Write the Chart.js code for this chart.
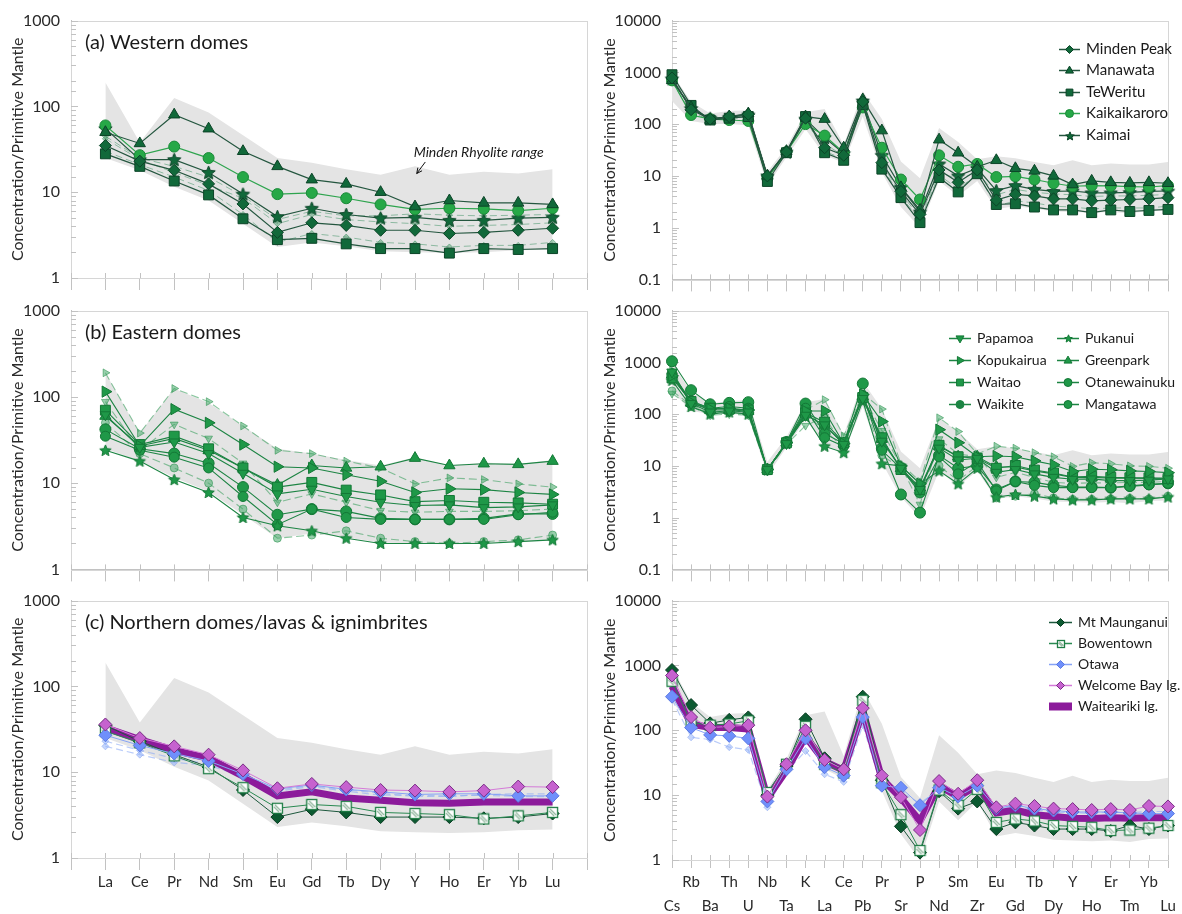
<!DOCTYPE html>
<html>
<head>
<meta charset="utf-8">
<script src="https://cdn.jsdelivr.net/npm/chart.js@4.4.1/dist/chart.umd.min.js"></script>
<style>
  body { margin: 0; background: #fff; }
  #wrap { position: relative; width: 1182px; height: 914px; overflow: hidden; }
  canvas { position: absolute; }
</style>
</head>
<body>
<div id="wrap">
  <canvas id="a1" width="595" height="300" style="left:0;top:0"></canvas>
  <canvas id="a2" width="592" height="300" style="left:590px;top:0"></canvas>
  <canvas id="b1" width="595" height="300" style="left:0;top:290px"></canvas>
  <canvas id="b2" width="592" height="300" style="left:590px;top:290px"></canvas>
  <canvas id="c1" width="595" height="334" style="left:0;top:580px"></canvas>
  <canvas id="c2" width="592" height="334" style="left:590px;top:580px"></canvas>
</div>
<script>
// element order on the two kinds of plot
const ree = ['La', 'Ce', 'Pr', 'Nd', 'Sm', 'Eu', 'Gd', 'Tb', 'Dy', 'Y', 'Ho', 'Er', 'Yb', 'Lu'];
const spider = ['Cs', 'Rb', 'Ba', 'Th', 'U', 'Nb', 'Ta', 'K', 'La', 'Ce', 'Pb', 'Pr', 'Sr', 'P', 'Nd', 'Sm', 'Zr',
                'Eu', 'Gd', 'Tb', 'Dy', 'Y', 'Ho', 'Er', 'Tm', 'Yb', 'Lu'];

// Minden Rhyolite envelope
const reeRangeHi = [190, 38, 125, 85, 46, 25, 22, 18.5, 16, 20, 16, 17.3, 16.5, 18.5];
const reeRangeLo = [25, 18, 11.6, 8, 4.3, 2.3, 2.6, 2.35, 2.05, 2.0, 1.95, 2.0, 2.1, 2.15];
const spRangeHi = [950, 270, 160, 180, 185, 12, 36, 170, 195, 40, 430, 126, 19, 9, 84, 45, 21, 24, 22, 18.5, 16, 20, 16, 17.3, 16.5, 16.5, 18.5];
const spRangeLo = [280, 115, 100, 100, 95, 6.5, 23, 80, 25, 18, 140, 11.6, 2.5, 1.0, 8, 4.1, 8, 2.3, 2.6, 2.35, 2.05, 2.0, 1.95, 2.0, 1.9, 2.1, 2.15];

// (a) Western domes
const mindenPeakRee = [35, 23, 18, 12.5, 7.3, 3.4, 4.4, 4.1, 3.6, 3.6, 3.3, 3.4, 3.6, 3.8];
const manawataRee = [50, 37, 80, 55, 30, 20, 14, 12.5, 10, 6.8, 8, 7.5, 7.5, 7.2];
const teWerituRee = [28, 20, 13.5, 9.3, 4.9, 2.8, 2.9, 2.5, 2.2, 2.2, 1.95, 2.2, 2.15, 2.2];
const kaikaikaroroRee = [60, 27, 34, 25, 15, 9.5, 9.8, 8.5, 7.2, 6.3, 6.5, 6.4, 6.1, 6.5];
const kaimaiRee = [55, 24, 24, 17, 9.5, 5.2, 6.5, 5.5, 5.0, 5.1, 4.7, 4.7, 5.0, 5.1];
const westExtra1Ree = [42, 24, 17, 12, 8.5, 4.3, 5.5, 4.8, 4.5, 4.3, 4.0, 4.1, 4.2, 4.4];
const westExtra2Ree = [30, 21, 15, 10.5, 5.5, 2.6, 3.3, 3.0, 2.6, 2.5, 2.3, 2.4, 2.4, 2.6];
const westExtra3Ree = [45, 25, 20, 15, 9.0, 4.8, 6.0, 5.3, 5.3, 5.6, 5.4, 5.3, 5.4, 5.5];

const mindenPeakSp = [780, 190, 125, 140, 155, 10, 29, 130, 35, 25, 270, 18, 5, 1.8, 13, 7.5, 13, 3.4, 4.4, 4.1, 3.6, 3.6, 3.3, 3.4, 3.5, 3.6, 3.8];
const manawataSp = [700, 210, 120, 140, 160, 10, 30, 140, 125, 35, 300, 75, 6, 2.2, 50, 28, 15, 20, 14, 12.5, 10, 6.8, 8, 7.5, 7.3, 7.5, 7.2];
const teWerituSp = [900, 230, 120, 130, 140, 7.8, 28, 140, 28, 20, 240, 13.5, 3.8, 1.25, 9.3, 4.9, 11, 2.8, 2.9, 2.5, 2.2, 2.2, 1.95, 2.2, 2.05, 2.15, 2.25];
const kaikaikaroroSp = [700, 150, 125, 120, 115, 9, 29, 100, 60, 28, 210, 35, 8.5, 3.5, 25, 15, 17, 9.5, 9.8, 8.5, 7.2, 6.3, 6.5, 6.4, 6.2, 6.1, 6.5];
const kaimaiSp = [750, 200, 130, 135, 150, 10, 29, 125, 55, 27, 280, 25, 6, 2.0, 17, 10, 14, 5.2, 6.5, 5.5, 5.0, 5.1, 4.7, 4.7, 4.8, 5.0, 5.1];
const westExtra1Sp = [650, 170, 120, 125, 140, 9, 28, 110, 42, 24, 230, 17, 4.5, 1.6, 12, 8.5, 12, 4.3, 5.5, 4.8, 4.5, 4.3, 4.0, 4.1, 4.1, 4.2, 4.4];
const westExtra2Sp = [850, 210, 125, 130, 145, 8.5, 28, 120, 30, 21, 250, 15, 4, 1.4, 10.5, 5.5, 11, 2.6, 3.3, 3.0, 2.6, 2.5, 2.3, 2.4, 2.4, 2.4, 2.6];

// (b) Eastern domes
const papamoaRee = [62, 26, 30, 22, 13, 7.5, 8.5, 7.0, 6.0, 5.5, 5.6, 5.2, 5.3, 5.6];
const kopukairuaRee = [115, 27, 72, 50, 28, 15.5, 15, 12.5, 10.5, 7.8, 8.6, 8.4, 7.8, 7.4];
const waitaoRee = [70, 28, 35, 25, 15, 9, 10.2, 8.3, 7.3, 6.1, 6.3, 6.0, 5.9, 5.7];
const waikiteRee = [50, 22, 15, 10, 5, 2.3, 2.5, 2.8, 2.3, 2.1, 2.0, 2.1, 2.2, 2.5];
const pukanuiRee = [24, 18, 11, 7.8, 4.0, 3.2, 2.8, 2.3, 2.0, 2.0, 2.0, 2.0, 2.1, 2.2];
const greenparkRee = [60, 27, 33, 24, 15, 9.5, 16, 15, 15.5, 19.5, 16, 16.8, 16.5, 18];
const otanewainukuRee = [35, 24, 20, 15, 7, 3.3, 5, 4.0, 3.8, 3.8, 3.8, 3.8, 4.3, 4.6];
const mangatawaRee = [42, 25, 22, 17, 9, 4.3, 5, 4.7, 3.9, 3.8, 3.8, 3.9, 4.4, 4.4];
const kopukairua2Ree = [190, 38, 125, 88, 46, 24, 22, 18, 15, 9.8, 11.5, 11, 9.8, 9];
const papamoa2Ree = [88, 24, 48, 33, 17, 6, 7.5, 6, 4.8, 4.6, 4.7, 4.7, 4.8, 5.0];

const papamoaSp = [650, 160, 110, 115, 110, 8.5, 27, 95, 62, 26, 200, 30, 9, 3.5, 22, 13, 14, 7.5, 8.5, 7.0, 6.0, 5.5, 5.6, 5.2, 5.2, 5.3, 5.6];
const kopukairuaSp = [550, 170, 125, 130, 120, 8.5, 28, 115, 115, 27, 240, 72, 10, 4.5, 50, 28, 15, 15.5, 15, 12.5, 10.5, 7.8, 8.6, 8.4, 8, 7.8, 7.4];
const waitaoSp = [500, 175, 130, 125, 120, 8.5, 28, 105, 70, 28, 210, 35, 8.5, 3.5, 25, 15, 14, 9, 10.2, 8.3, 7.3, 6.1, 6.3, 6.0, 5.9, 5.9, 5.7];
const waikiteSp = [280, 150, 105, 110, 100, 8.5, 26, 95, 50, 22, 190, 16, 9, 3.2, 10, 5.2, 10, 2.4, 2.6, 2.9, 2.4, 2.25, 2.25, 2.3, 2.35, 2.3, 2.6];
const pukanuiSp = [450, 140, 100, 110, 100, 8.5, 27, 90, 24, 18, 180, 11, 10, 4.5, 8, 4.5, 9, 2.5, 2.8, 2.6, 2.3, 2.2, 2.2, 2.3, 2.3, 2.3, 2.5];
const greenparkSp = [580, 165, 120, 120, 115, 8.5, 28, 100, 60, 27, 220, 33, 9, 3.8, 24, 15, 15, 9.5, 9.5, 8.0, 7.0, 6.0, 6.0, 5.8, 5.8, 5.7, 5.8];
const otanewainukuSp = [600, 180, 130, 140, 130, 8.5, 28, 130, 35, 24, 230, 20, 9, 3, 15, 7, 12, 3.3, 5, 4.2, 3.8, 3.8, 3.8, 3.8, 4.0, 4.3, 4.6];
const mangatawaSp = [1050, 290, 155, 165, 170, 8.5, 29, 160, 42, 27, 390, 22, 2.8, 1.25, 16, 9, 10, 3.5, 5, 4.8, 4.2, 3.9, 3.9, 3.8, 4.1, 4.4, 4.6];
const kopukairua2Sp = [700, 150, 100, 105, 100, 8.5, 27, 120, 190, 38, 250, 125, 11, 5, 85, 46, 17, 24, 22, 18, 15, 9.8, 11.5, 11, 10, 9.8, 9];
const papamoa2Sp = [250, 140, 95, 100, 95, 8, 26, 60, 88, 24, 230, 48, 10, 1.8, 33, 17, 15, 6, 7.5, 6, 4.8, 4.6, 4.7, 4.7, 4.8, 4.8, 5.0];

// (c) Northern domes/lavas & ignimbrites
const mtMaunganuiRee = [35, 23, 16, 11.5, 6.2, 3.0, 3.7, 3.4, 3.0, 3.0, 3.0, 2.9, 3.0, 3.3];
const bowentownRee = [30, 22, 15.5, 11, 6.6, 3.8, 4.2, 4.0, 3.4, 3.3, 3.2, 2.85, 3.1, 3.4];
const otawaRee = [27, 20.5, 16.5, 13.5, 9.5, 6.4, 7.1, 6.3, 5.9, 5.5, 5.6, 5.6, 5.3, 5.3];
const welcomeBayRee = [36, 25, 20, 16, 10.5, 6.5, 7.3, 6.7, 6.2, 6.1, 5.9, 6.1, 6.8, 6.7];
const waitearikiRee = [33, 24, 18, 14.5, 9, 5.3, 5.9, 5.0, 4.7, 4.4, 4.35, 4.5, 4.5, 4.5];
const otawa2Ree = [20, 16, 13, 12, 9, 6, 6.8, 6.0, 5.4, 5.4, 5.2, 5.5, 5.6, 5.6];
const otawa3Ree = [23, 18, 14.5, 12.5, 9.2, 6.2, 7, 6.2, 5.7, 5.2, 5.3, 5.4, 5.2, 5.2];

const mtMaunganuiSp = [850, 245, 128, 145, 158, 10, 28, 148, 37, 25, 330, 17, 3.3, 1.3, 11.5, 6.2, 8, 3.0, 3.8, 3.4, 3.0, 3.0, 3.0, 2.8, 3.4, 3.0, 3.4];
const bowentownSp = [570, 133, 120, 125, 140, 11, 30, 115, 30, 22, 290, 15.5, 5, 1.4, 12, 7, 12.3, 3.8, 4.3, 4.0, 3.4, 3.3, 3.2, 2.85, 2.9, 3.1, 3.4];
const otawaSp = [330, 110, 85, 82, 75, 8, 25, 75, 27, 20, 160, 14, 13, 7, 13, 9.5, 14, 6.3, 7, 6.2, 5.8, 5.5, 5.5, 5.5, 5.3, 5.2, 5.2];
const welcomeBaySp = [700, 160, 110, 115, 120, 9.5, 30, 100, 35, 25, 220, 20, 9.3, 2.9, 16.5, 10.5, 17, 6.5, 7.4, 6.8, 6.2, 6.1, 5.9, 6.1, 5.9, 6.8, 6.7];
const waitearikiSp = [480, 125, 110, 110, 105, 9, 24, 80, 33, 24, 200, 18, 9, 4, 14, 9.5, 14, 5.3, 5.9, 5.0, 4.7, 4.4, 4.35, 4.5, 4.4, 4.5, 4.5];
const otawa2Sp = [300, 78, 72, 55, 50, 6.5, 23, 48, 21, 16, 120, 13, 11, 7.5, 12, 9, 13, 6, 6.8, 6, 5.4, 5.4, 5.2, 5.5, 5.4, 5.6, 5.6];

const FONT = 'Lato, "Open Sans", sans-serif';
Chart.defaults.font.family = FONT;
Chart.defaults.color = '#333';

// ---- marker images ----
function starImg(r, fill, stroke) {
  const s = Math.ceil(r * 2 + 3);
  const c = document.createElement('canvas');
  c.width = c.height = s;
  const g = c.getContext('2d');
  g.translate(s / 2, s / 2 + r * 0.08);
  g.beginPath();
  for (let k = 0; k < 10; k++) {
    const rr = k % 2 ? r * 0.45 : r;
    const a = -Math.PI / 2 + k * Math.PI / 5;
    g.lineTo(rr * Math.cos(a), rr * Math.sin(a));
  }
  g.closePath();
  g.fillStyle = fill; g.fill();
  g.strokeStyle = stroke; g.lineWidth = 1; g.stroke();
  return c;
}

function hatchSquare(half, stroke) {
  const s = Math.ceil(half * 2 + 3);
  const c = document.createElement('canvas');
  c.width = c.height = s;
  const g = c.getContext('2d');
  const o = (s - half * 2) / 2;
  g.fillStyle = '#fff';
  g.fillRect(o, o, half * 2, half * 2);
  g.strokeStyle = '#8fb59c'; g.lineWidth = 1.2;
  g.beginPath();
  g.moveTo(o + half * 0.5, o + half * 0.3); g.lineTo(o + half * 1.7, o + half * 1.5);
  g.moveTo(o + half * 0.3, o + half * 0.7); g.lineTo(o + half * 1.3, o + half * 1.7);
  g.stroke();
  g.strokeStyle = stroke; g.lineWidth = 1.3;
  g.strokeRect(o, o, half * 2, half * 2);
  return c;
}

// ---- dataset styles ----
const dkA = { borderColor: '#24563f', pointBackgroundColor: '#11693a', pointBorderColor: '#0b4427', borderWidth: 1.2 };
const ltA = { borderColor: '#2ea44e', pointBackgroundColor: '#26a847', pointBorderColor: '#1a8a39', borderWidth: 1.2 };
const fadeA = { borderColor: 'rgba(70,150,105,0.55)', pointBackgroundColor: 'rgba(70,150,105,0.45)', pointBorderColor: 'rgba(70,150,105,0.6)',
                borderDash: [7, 4], pointRadius: 3, pointStyle: 'rectRot', order: 10 };
const grB = { borderColor: '#1c8443', pointBackgroundColor: '#1f9848', pointBorderColor: '#137836', borderWidth: 1.1 };
const fadeB = { borderColor: 'rgba(60,160,95,0.6)', pointBackgroundColor: 'rgba(70,170,105,0.55)', pointBorderColor: 'rgba(50,150,85,0.6)',
                borderDash: [8, 4], borderWidth: 1.1, pointRadius: 4.5, order: 10 };

const kaimaiStar = starImg(7, '#11693a', '#0b4427');
const kaimaiStarSm = starImg(4.5, '#11693a', '#0b4427');
const pukanuiStar = starImg(6, '#1f9848', '#137836');
const pukanuiStarSm = starImg(4, '#1f9848', '#137836');
const bowenSq = hatchSquare(5, '#1f7d45');
const bowenSqSm = hatchSquare(3.5, '#1f7d45');

function series(label, vals, style, extra) {
  return Object.assign({ label, vals, fill: false, clip: false, tension: 0, pointBorderWidth: 1, borderWidth: 1, order: 0 }, style, extra);
}

function rangeSets(hi, lo) {
  return [
    { label: '_hi', vals: hi, fill: '+1', backgroundColor: '#e4e4e4', borderColor: 'rgba(0,0,0,0)', borderWidth: 0, pointRadius: 0, order: 20 },
    { label: '_lo', vals: lo, fill: false, borderColor: 'rgba(0,0,0,0)', borderWidth: 0, pointRadius: 0, order: 20 }
  ];
}

function westSets(r) {
  const v = r ? [mindenPeakRee, manawataRee, teWerituRee, kaikaikaroroRee, kaimaiRee, westExtra1Ree, westExtra2Ree, westExtra3Ree]
              : [mindenPeakSp, manawataSp, teWerituSp, kaikaikaroroSp, kaimaiSp, westExtra1Sp, westExtra2Sp];
  const sets = [
    ...rangeSets(r ? reeRangeHi : spRangeHi, r ? reeRangeLo : spRangeLo),
    series('Minden Peak', v[0], dkA, { pointStyle: 'rectRot', pointRadius: 6 }),
    series('Manawata', v[1], dkA, { pointStyle: 'triangle', pointRadius: 6.5 }),
    series('TeWeritu', v[2], dkA, { pointStyle: 'rect', pointRadius: 7 }),
    series('Kaikaikaroro', v[3], ltA, { pointStyle: 'circle', pointRadius: 5.5 }),
    series('Kaimai', v[4], dkA, { pointStyle: kaimaiStar, legendStyle: kaimaiStarSm }),
    series('_w1', v[5], fadeA),
    series('_w2', v[6], fadeA)
  ];
  if (r) sets.push(series('_w3', v[7], fadeA));
  return sets;
}

function eastSets(r) {
  const v = r ? [papamoaRee, kopukairuaRee, waitaoRee, waikiteRee, pukanuiRee, greenparkRee, otanewainukuRee, mangatawaRee, kopukairua2Ree, papamoa2Ree]
              : [papamoaSp, kopukairuaSp, waitaoSp, waikiteSp, pukanuiSp, greenparkSp, otanewainukuSp, mangatawaSp, kopukairua2Sp, papamoa2Sp];
  return [
    ...rangeSets(r ? reeRangeHi : spRangeHi, r ? reeRangeLo : spRangeLo),
    series('Papamoa', v[0], grB, { pointStyle: 'triangle', pointRotation: 180, pointRadius: 6 }),
    series('Kopukairua', v[1], grB, { pointStyle: 'triangle', pointRotation: 90, pointRadius: 6.5 }),
    series('Waitao', v[2], grB, { pointStyle: 'rect', pointRadius: 7 }),
    series('Waikite', v[3], fadeB, { pointStyle: 'circle', pointRadius: 4, legendColor: '#1c8443' }),
    series('Pukanui', v[4], grB, { pointStyle: pukanuiStar, legendStyle: pukanuiStarSm }),
    series('Greenpark', v[5], grB, { pointStyle: 'triangle', pointRadius: 6.5 }),
    series('Otanewainuku', v[6], grB, { pointStyle: 'circle', pointRadius: 5 }),
    series('Mangatawa', v[7], grB, { pointStyle: 'circle', pointRadius: 5.5 }),
    series('_k2', v[8], fadeB, { pointStyle: 'triangle', pointRotation: 90 }),
    series('_p2', v[9], fadeB, { pointStyle: 'triangle', pointRotation: 180 })
  ];
}

function northSets(r) {
  const v = r ? [mtMaunganuiRee, bowentownRee, otawaRee, welcomeBayRee, waitearikiRee, otawa2Ree, otawa3Ree]
              : [mtMaunganuiSp, bowentownSp, otawaSp, welcomeBaySp, waitearikiSp, otawa2Sp];
  const fadeC = { borderColor: 'rgba(140,170,245,0.6)', pointBackgroundColor: 'rgba(150,180,250,0.55)', pointBorderColor: 'rgba(130,160,240,0.5)',
                  borderDash: [7, 4], borderWidth: 1.2, pointRadius: 3.5, pointStyle: 'rectRot', order: 10 };
  const sets = [
    ...rangeSets(r ? reeRangeHi : spRangeHi, r ? reeRangeLo : spRangeLo),
    series('Welcome Bay Ig.', v[3], { borderColor: '#d47ad8', pointBackgroundColor: '#c662cf', pointBorderColor: '#7a2d86' },
           { pointStyle: 'rectRot', pointRadius: 6.5 }),
    series('Otawa', v[2], { borderColor: '#86a3f6', pointBackgroundColor: '#6f8ffb', pointBorderColor: '#5c7be2' },
           { pointStyle: 'rectRot', pointRadius: 6.5 }),
    series('Bowentown', v[1], { borderColor: '#2a8a52' }, { pointStyle: bowenSq, legendStyle: bowenSqSm }),
    series('Mt Maunganui', v[0], { borderColor: '#1d583d', pointBackgroundColor: '#0c5a31', pointBorderColor: '#083c21' },
           { pointStyle: 'rectRot', pointRadius: 6.5 }),
    series('Waiteariki Ig.', v[4], { borderColor: '#8c1b9b', borderWidth: 7 }, { pointRadius: 0, order: 5, legendBar: true }),
    series('_o2', v[5], fadeC)
  ];
  if (r) sets.push(series('_o3', v[6], fadeC));
  return sets;
}

// ---- marker for the in-plot legend ----
function drawMarker(ctx, ds, x, y, r) {
  const st = ds.legendStyle || ds.pointStyle;
  if (st && typeof st !== 'string') {
    ctx.drawImage(st, Math.round(x - st.width / 2), Math.round(y - st.height / 2));
    return;
  }
  ctx.save();
  ctx.translate(x, y);
  ctx.rotate((ds.pointRotation || 0) * Math.PI / 180);
  ctx.beginPath();
  if (st === 'circle') ctx.arc(0, 0, r, 0, Math.PI * 2);
  else if (st === 'rect') ctx.rect(-r * 0.85, -r * 0.85, r * 1.7, r * 1.7);
  else if (st === 'rectRot') { ctx.moveTo(0, -r); ctx.lineTo(r, 0); ctx.lineTo(0, r); ctx.lineTo(-r, 0); ctx.closePath(); }
  else if (st === 'triangle') { ctx.moveTo(0, -r * 1.1); ctx.lineTo(r, r * 0.65); ctx.lineTo(-r, r * 0.65); ctx.closePath(); }
  ctx.fillStyle = ds.legendColor || ds.pointBackgroundColor;
  ctx.fill();
  ctx.strokeStyle = ds.legendColor || ds.pointBorderColor;
  ctx.lineWidth = 1;
  ctx.stroke();
  ctx.restore();
}

// frame, inner tick marks, panel label, legend, note
function deco(cfg) {
  return {
    id: 'deco',
    beforeDatasetsDraw(chart) {
      const { ctx, chartArea: a, scales: { x, y } } = chart;
      ctx.save();
      ctx.strokeStyle = '#d6d6d6';
      ctx.lineWidth = 1;
      ctx.strokeRect(Math.round(a.left) + 0.5, Math.round(a.top) + 0.5, Math.round(a.right - a.left), Math.round(a.bottom - a.top));
      ctx.strokeStyle = '#c2c2c2';
      ctx.beginPath();
      y.ticks.forEach(t => {
        const py = Math.round(y.getPixelForValue(t.value)) + 0.5;
        ctx.moveTo(a.left, py);
        ctx.lineTo(a.left + (t.label ? 7 : 5), py);
      });
      x.ticks.forEach(t => {
        const px = Math.round(x.getPixelForValue(t.value)) + 0.5;
        ctx.moveTo(px, a.bottom - 5);
        ctx.lineTo(px, a.bottom);
      });
      ctx.stroke();
      ctx.restore();
    },
    afterDatasetsDraw(chart) {
      const { ctx, chartArea: a, scales: { x, y } } = chart;
      ctx.save();
      ctx.fillStyle = '#1a1a1a';
      ctx.textBaseline = 'middle';
      if (cfg.title) {
        ctx.font = '20px ' + FONT;
        ctx.fillText(cfg.title, a.left + 14, a.top + 22);
      }
      if (cfg.note) {
        const n = cfg.note;
        ctx.font = 'italic 14px ' + FONT;
        ctx.textAlign = 'center';
        ctx.fillText(n.text, x.getPixelForValue(n.at[0]), y.getPixelForValue(n.at[1]));
        const x0 = x.getPixelForValue(n.from[0]), y0 = y.getPixelForValue(n.from[1]);
        const x1 = x.getPixelForValue(n.to[0]), y1 = y.getPixelForValue(n.to[1]);
        const ang = Math.atan2(y1 - y0, x1 - x0);
        ctx.strokeStyle = '#111';
        ctx.lineWidth = 1;
        ctx.beginPath();
        ctx.moveTo(x0, y0); ctx.lineTo(x1, y1);
        ctx.moveTo(x1, y1); ctx.lineTo(x1 - 6 * Math.cos(ang - 0.45), y1 - 6 * Math.sin(ang - 0.45));
        ctx.moveTo(x1, y1); ctx.lineTo(x1 - 6 * Math.cos(ang + 0.45), y1 - 6 * Math.sin(ang + 0.45));
        ctx.stroke();
      }
      if (cfg.legend) {
        const lg = cfg.legend;
        ctx.textAlign = 'left';
        ctx.font = (lg.font || 15) + 'px ' + FONT;
        lg.cols.forEach((col, ci) => {
          col.forEach((name, ri) => {
            const ds = chart.data.datasets.find(d => d.label === name);
            const x0 = a.right + lg.dx[ci];
            const yy = Math.round(a.top + lg.dy + ri * lg.gap) + 0.5;
            if (ds.legendBar) {
              ctx.fillStyle = ds.borderColor;
              ctx.fillRect(x0, yy - 4, lg.len, 8);
            } else {
              ctx.strokeStyle = ds.legendColor || ds.borderColor;
              ctx.lineWidth = 1.5;
              ctx.beginPath();
              ctx.moveTo(x0, yy); ctx.lineTo(x0 + lg.len, yy);
              ctx.stroke();
              drawMarker(ctx, ds, x0 + lg.len / 2, yy, 4);
            }
            ctx.fillStyle = '#1a1a1a';
            ctx.fillText(name, x0 + lg.len + 6, yy);
          });
        });
      }
      ctx.restore();
    }
  };
}

function logLabel(v) {
  const l = Math.log10(v);
  if (Math.abs(l - Math.round(l)) > 1e-6) return '';
  return v < 1 ? '0.1' : String(Math.round(v));
}

function makePanel(id, kind, sets, g, cfg) {
  const isRee = kind === 'ree';
  const off = isRee ? 1 : 0;
  const datasets = sets.map(s => Object.assign({}, s, { data: s.vals.map((v, i) => ({ x: i + off, y: v })) }));
  let xLabel = () => '';
  if (g.labels && isRee) xLabel = v => ree[v - 1] || '';
  if (g.labels && !isRee) xLabel = v => {
    const n = spider[v];
    if (n === undefined) return '';
    return v % 2 ? [n, ''] : ['', n];
  };
  return new Chart(document.getElementById(id), {
    type: 'line',
    data: { datasets },
    options: {
      responsive: false,
      animation: false,
      events: [],
      layout: { padding: { top: g.padTop, right: g.padRight, left: 0, bottom: 0 } },
      plugins: { legend: { display: false }, tooltip: { enabled: false } },
      scales: {
        x: {
          type: 'linear',
          min: 0,
          max: isRee ? ree.length + 1 : spider.length - 1,
          afterFit: s => { s.height = g.xh; },
          grid: { drawOnChartArea: false, drawTicks: true, tickLength: g.tickLen || 12, color: '#c2c2c2' },
          border: { color: '#c2c2c2' },
          ticks: { stepSize: 1, autoSkip: false, maxRotation: 0, padding: g.labelPad || 3, callback: xLabel,
                   font: { size: 15, lineHeight: g.lineH || 1.2 }, color: '#2a2a2a' }
        },
        y: {
          type: 'logarithmic',
          min: g.ymin,
          max: g.ymax,
          afterFit: s => { s.width = g.yw; },
          grid: { drawOnChartArea: false, drawTicks: false },
          border: { color: '#c2c2c2' },
          ticks: { autoSkip: false, padding: 11, callback: logLabel, font: { size: 16 }, color: '#2a2a2a' },
          title: { display: true, text: 'Concentration/Primitive Mantle', font: { size: 16 }, color: '#2a2a2a',
                   padding: { top: g.titlePad, bottom: 0 } }
        }
      }
    },
    plugins: [deco(cfg)]
  });
}

const leftGeom = { yw: 71, padRight: 8, ymin: 1, ymax: 1000, titlePad: 8 };
const rightGeom = { yw: 82, padRight: 14, ymin: 0.1, ymax: 10000, titlePad: 10 };

makePanel('a1', 'ree', westSets(true), Object.assign({}, leftGeom, { padTop: 15, xh: 22 }), {
  title: '(a) Western domes',
  note: { text: 'Minden Rhyolite range', at: [11.85, 29], from: [10.3, 22.5], to: [10.05, 16.5] }
});
makePanel('a2', 'spider', westSets(false), Object.assign({}, rightGeom, { padTop: 17, xh: 18 }), {
  legend: { cols: [['Minden Peak', 'Manawata', 'TeWeritu', 'Kaikaikaroro', 'Kaimai']], dx: [-109], dy: 28, gap: 21.5, len: 21 }
});
makePanel('b1', 'ree', eastSets(true), Object.assign({}, leftGeom, { padTop: 17, xh: 20 }), {
  title: '(b) Eastern domes'
});
makePanel('b2', 'spider', eastSets(false), Object.assign({}, rightGeom, { padTop: 17, xh: 18 }), {
  legend: { cols: [['Papamoa', 'Kopukairua', 'Waitao', 'Waikite'], ['Pukanui', 'Greenpark', 'Otanewainuku', 'Mangatawa']],
            dx: [-219, -111], dy: 27, gap: 22, len: 22, font: 14 }
});
makePanel('c1', 'ree', northSets(true), Object.assign({}, leftGeom, { padTop: 17, xh: 56, labels: true }), {
  title: '(c) Northern domes/lavas & ignimbrites'
});
makePanel('c2', 'spider', northSets(false),
  Object.assign({}, rightGeom, { ymin: 1, padTop: 16, xh: 54, labels: true, tickLen: 8, labelPad: 0, lineH: 1.55 }), {
  legend: { cols: [['Mt Maunganui', 'Bowentown', 'Otawa', 'Welcome Bay Ig.', 'Waiteariki Ig.']], dx: [-119], dy: 21, gap: 21, len: 23, font: 14 }
});
</script>
</body>
</html>
